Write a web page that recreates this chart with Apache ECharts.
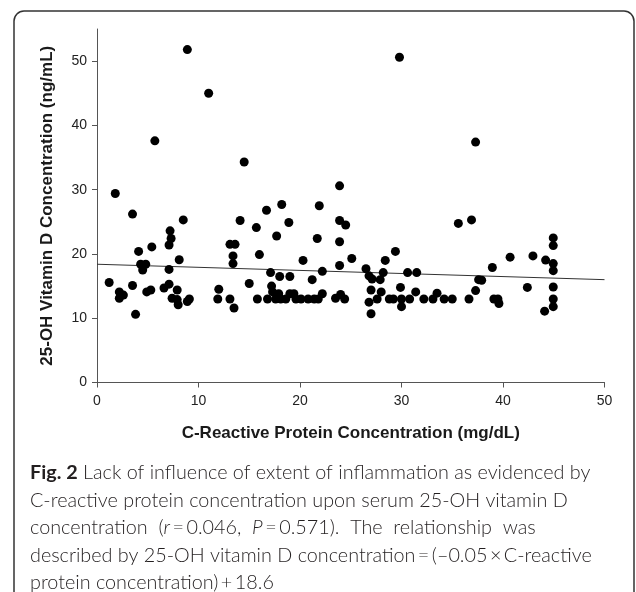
<!DOCTYPE html>
<html lang="en">
<head>
    <meta charset="UTF-8">
    <title>CRP vs 25-OH Vitamin D</title>
    <script src="https://cdn.jsdelivr.net/npm/echarts@6/dist/echarts.min.js"></script>
    <style>
        html, body, #chart {
            width: 636px;
            height: 592px;
            padding: 0;
            margin: 0;
            background: #fff;
        }
    </style>
</head>
<body>
<div id="chart"></div>
<script>
    // C-reactive protein (mg/dL)
    var crpValues = [
        1.2, 1.8, 2.2, 2.2, 2.6, 3.5, 3.5, 3.8, 4.1, 4.3, 4.5, 4.8, 4.9, 5.3, 5.4, 5.7,
        6.6, 7.1, 7.2, 7.3, 7.1, 7.1, 7.4, 7.9, 7.9, 8.0, 8.1, 8.5, 8.9, 8.9, 9.1,
        11.0, 11.9, 12.0, 13.1, 13.6, 13.4, 13.4, 13.1, 13.5, 14.1, 14.5, 15.0, 15.7, 15.8,
        16.0, 16.7, 17.1, 17.2, 16.8, 17.3, 17.7, 18.2, 18.0, 17.9, 17.6, 18.1, 18.6,
        18.9, 19.0, 19.0, 19.4, 19.6, 20.1, 20.3, 20.8, 21.2, 21.4, 21.9, 21.7, 22.2,
        21.8, 22.2, 23.9, 23.9, 24.5, 23.9, 23.9, 23.5, 24.0, 24.4, 25.1,
        26.5, 26.8, 26.8, 27.0, 27.0, 27.1, 27.6, 27.9, 28.0, 28.2, 28.4, 28.8, 29.2,
        29.4, 29.8, 29.9, 30.0, 30.0, 30.6, 30.8, 31.4, 31.5, 32.2, 33.1, 33.5, 34.2,
        35.0, 35.6, 36.65, 36.9, 37.3, 37.3, 37.6, 37.9, 38.95, 39.1, 39.5, 39.6,
        40.7, 42.4, 42.95, 44.1, 44.2, 44.95, 44.95, 44.95, 44.95, 44.95, 44.95, 44.95
    ];
    // 25-OH vitamin D (ng/mL)
    var vitDValues = [
        15.55, 29.4, 14.1, 13.1, 13.6, 26.2, 15.1, 10.6, 20.4, 18.4, 17.5, 18.4, 14.1, 14.4, 21.1, 37.6,
        14.7, 21.4, 23.6, 22.4, 17.6, 15.3, 13.1, 14.4, 12.9, 12.1, 19.1, 25.3, 51.8, 12.6, 13.0,
        45.0, 13.0, 14.5, 21.5, 21.5, 19.7, 18.5, 13.0, 11.6, 25.2, 34.3, 15.4, 24.1, 13.0,
        19.9, 26.8, 17.1, 15.0, 13.0, 14.1, 22.8, 27.7, 16.5, 13.8, 13.0, 13.0, 13.0,
        24.9, 16.5, 13.8, 13.8, 13.0, 13.0, 19.0, 13.0, 16.0, 13.0, 27.5, 22.4, 17.3,
        13.0, 13.8, 30.6, 25.2, 24.5, 21.9, 18.2, 13.1, 13.7, 13.0, 19.3,
        17.7, 16.6, 12.5, 10.7, 14.4, 16.1, 13.0, 16.0, 14.1, 17.1, 19.0, 13.0, 13.0,
        20.4, 50.6, 14.8, 13.0, 11.8, 17.1, 13.0, 14.1, 17.1, 13.0, 13.0, 13.9, 13.0,
        13.0, 24.75, 13.0, 25.3, 37.4, 14.3, 16.0, 15.9, 17.9, 13.0, 13.0, 12.3,
        19.5, 14.8, 19.7, 11.1, 19.05, 22.5, 21.3, 18.5, 17.4, 14.85, 13.0, 11.8
    ];
    // fitted line end points as drawn
    var fitX = [0, 50];
    var fitY = [18.4, 16.0];

    var xTicks = [0, 10, 20, 30, 40, 50];
    var yTicks = [0, 10, 20, 30, 40, 50];

    var captionLines = [
        "{b|Fig. 2} Lack of influence of extent of inflammation as evidenced by",
        "C-reactive protein concentration upon serum 25-OH vitamin D",
        "concentration  ({i|r}\u2009=\u20090.046,  {i|P}\u2009=\u20090.571).  The  relationship  was",
        "described by 25-OH vitamin D concentration\u2009=\u2009(\u20130.05\u2009\u00d7\u2009C-reactive",
        "protein concentration)\u2009+\u200918.6"
    ];

    var points = crpValues.map(function (x, i) {
        return [x, vitDValues[i]];
    });
    var fitLine = fitX.map(function (x, i) {
        return [x, fitY[i]];
    });

    var axisFont = "'Liberation Sans', Arial, sans-serif";
    var captionFont = "Lato, 'Open Sans', sans-serif";
    var captionSize = 19.8;

    var captionGraphics = captionLines.map(function (line, i) {
        return {
            type: "text",
            left: 30,
            top: 463 + i * 27.5,
            style: {
                text: line,
                font: "300 " + captionSize + "px " + captionFont,
                fill: "#231f20",
                rich: {
                    b: {fontWeight: "bold", fontFamily: captionFont, fontSize: captionSize, fill: "#231f20"},
                    i: {fontStyle: "italic", fontFamily: captionFont, fontSize: captionSize, fontWeight: 300, fill: "#231f20"}
                }
            }
        };
    });

    var myChart = echarts.init(document.getElementById("chart"), null, {renderer: "canvas"});

    myChart.setOption({
        animation: false,
        backgroundColor: "#fff",
        grid: {
            left: 97,
            right: 31.5,
            top: 29,
            bottom: 209.5,
            outerBoundsMode: "none"
        },
        xAxis: {
            type: "value",
            min: 0,
            max: 50,
            interval: 10,
            name: "C-Reactive Protein Concentration (mg/dL)",
            nameLocation: "middle",
            nameGap: 42,
            nameTextStyle: {fontFamily: axisFont, fontWeight: "bold", fontSize: 17, color: "#1a1a1a"},
            splitLine: {show: false},
            axisLine: {onZero: false, lineStyle: {color: "#555", width: 1}},
            axisTick: {show: true, length: 5, lineStyle: {color: "#555"}},
            axisLabel: {
                margin: 12,
                fontFamily: axisFont,
                fontSize: 14,
                color: "#222",
                customValues: xTicks
            }
        },
        yAxis: {
            type: "value",
            min: 0,
            max: 55,
            interval: 10,
            name: "25-OH Vitamin D Concentration (ng/mL)",
            nameLocation: "middle",
            nameGap: 41,
            nameTextStyle: {fontFamily: axisFont, fontWeight: "bold", fontSize: 17, color: "#1a1a1a"},
            splitLine: {show: false},
            axisLine: {show: true, lineStyle: {color: "#555", width: 1}},
            axisTick: {show: true, length: 5, lineStyle: {color: "#555"}, customValues: yTicks},
            axisLabel: {
                margin: 10,
                fontFamily: axisFont,
                fontSize: 14,
                color: "#222",
                customValues: yTicks
            }
        },
        series: [{
            type: "line",
            data: fitLine,
            symbol: "none",
            silent: true,
            lineStyle: {color: "#333", width: 1},
            z: 1
        }, {
            type: "scatter",
            data: points,
            symbol: "circle",
            symbolSize: 9,
            itemStyle: {color: "#000", opacity: 1},
            z: 2
        }],
        graphic: [{
            type: "rect",
            shape: {x: 14, y: 11, width: 620, height: 640, r: 10},
            style: {fill: "none", stroke: "#333", lineWidth: 1.5},
            silent: true
        }].concat(captionGraphics)
    });
</script>
</body>
</html>
